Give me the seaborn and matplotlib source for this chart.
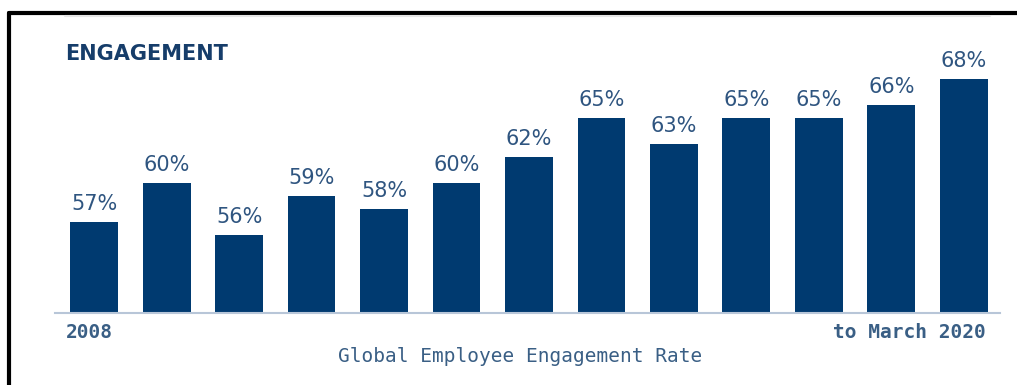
import matplotlib
matplotlib.use("Agg")
import matplotlib.pyplot as plt
import seaborn as sns
import pandas as pd
from matplotlib.lines import Line2D

periods = ["2008", "p2", "p3", "p4", "p5", "p6", "p7", "p8", "p9", "p10", "p11", "p12", "2020"]
values = [57, 60, 56, 59, 58, 60, 62, 65, 63, 65, 65, 66, 68]
value_labels = [f"{v}%" for v in values]
title = "ENGAGEMENT"
start_label = "2008"
end_label = "to March 2020"
xlabel = "Global Employee Engagement Rate"

df = pd.DataFrame({"period": periods, "value": values})

sns.set_theme(style="white")
plt.rcParams["font.family"] = ["DejaVu Sans"]

BAR = "#003a70"

fig = plt.figure(figsize=(10.17, 3.85), dpi=100)
ax = fig.add_axes([55 / 1017, 72 / 385, 945 / 1017, 293 / 385])

sns.barplot(data=df, x="period", y="value", color=BAR, width=0.66,
            saturation=1, ax=ax, edgecolor="none")
ax.set_ylim(50, 72.55)
ax.set_xlim(-0.54, 12.5)

for i, (v, lab) in enumerate(zip(values, value_labels)):
    ax.text(i, v + 0.6, lab, ha="center", va="bottom", fontsize=15,
            color="#2f5580")

for s in ["top", "right", "left"]:
    ax.spines[s].set_visible(False)
ax.spines["bottom"].set_color("#b8c6d8")
ax.spines["bottom"].set_linewidth(1.5)
ax.set_xticks([])
ax.set_yticks([])
ax.set_xlabel("")
ax.set_ylabel("")
ax.patch.set_alpha(0)

mono = "DejaVu Sans Mono"
fig.text(66 / 1017, 1 - 333 / 385, start_label, ha="left", va="center",
         fontsize=14, family=mono, color="#3a5f85", fontweight="bold")
fig.text(986 / 1017, 1 - 333 / 385, end_label, ha="right", va="center",
         fontsize=14, family=mono, color="#3a5f85", fontweight="bold")
fig.text(520 / 1017, 1 - 356 / 385, xlabel, ha="center", va="center",
         fontsize=14, family=mono, color="#3a5f85")
fig.text(65 / 1017, 1 - 54 / 385, title, ha="left", va="center",
         fontsize=15, fontweight="bold", color="#163d6a")

# frame lines (black top and left border, faint gray rule)
fig.add_artist(Line2D([9 / 1017, 1], [1 - 13 / 385, 1 - 13 / 385],
                      transform=fig.transFigure, color="black", lw=3))
fig.add_artist(Line2D([9 / 1017, 9 / 1017], [0, 1 - 13 / 385],
                      transform=fig.transFigure, color="black", lw=3))
fig.add_artist(Line2D([65 / 1017, 990 / 1017], [1 - 16 / 385, 1 - 16 / 385],
                      transform=fig.transFigure, color="#e6e6e6", lw=1.5))

fig.savefig("out.png", dpi=100, facecolor="white")
